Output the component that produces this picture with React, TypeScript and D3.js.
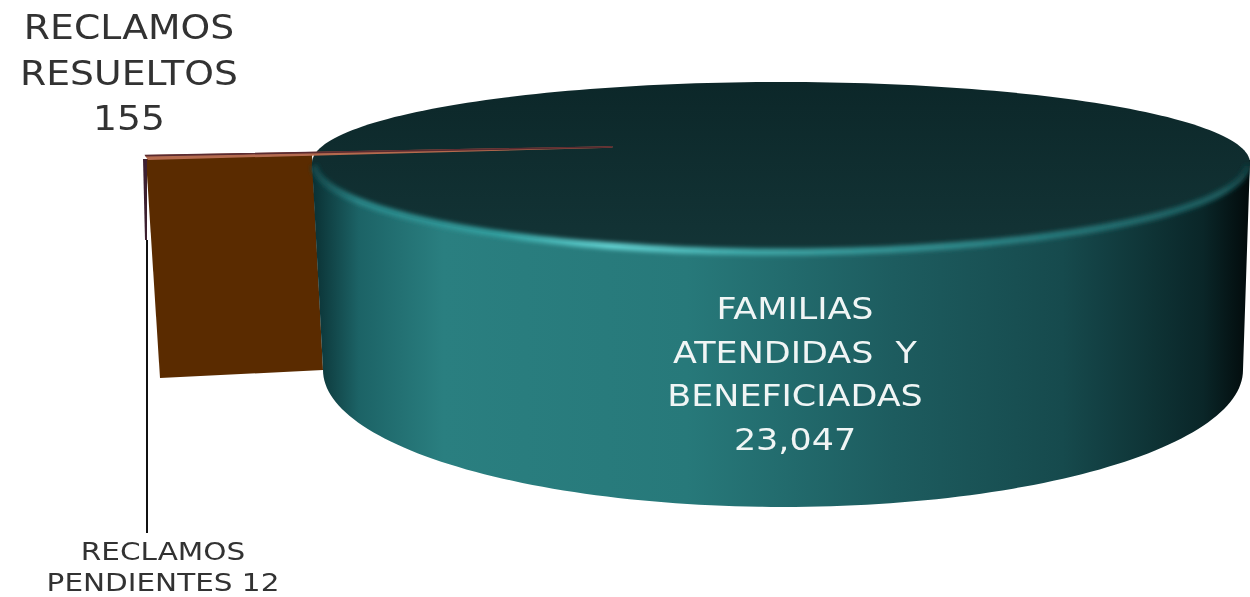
import React from "react";
import * as d3 from "d3";

const categories = ["FAMILIAS ATENDIDAS Y BENEFICIADAS", "RECLAMOS RESUELTOS", "RECLAMOS PENDIENTES"];
const values = [23047, 155, 12];
const topLabel = ["RECLAMOS", "RESUELTOS", "155"];
const mainLabel = ["FAMILIAS", "ATENDIDAS  Y", "BENEFICIADAS", "23,047"];
const bottomLabel = ["RECLAMOS", "PENDIENTES 12"];

const W = 1250, H = 597;
const cx = 781, cy = 163, rx = 469, ryTop = 81, ryFront = 89;
const bottomCx = 783, bottomCy = 370, bottomRx = 460, bottomRy = 137;
const explode = 170;
const apexY = 147;

const halfEllipse = (x0: number, y0: number, a: number, b: number, from: number, to: number) =>
  d3.line<number>()
    .x((t) => x0 + a * Math.cos(t))
    .y((t) => y0 + b * Math.sin(t))(d3.range(0, 121).map((i) => from + (i / 120) * (to - from))) as string;

export default function App() {
  const total = d3.sum(values);
  const smallSpan = ((values[1] + values[2]) / total) * 2 * Math.PI;
  const mid = (262.7 / 180) * Math.PI;
  const start = mid + smallSpan / 2;
  const pie = d3.pie<number>().sort(null).startAngle(start).endAngle(start + 2 * Math.PI);
  const arcs = pie(values);
  const arc = d3.arc<d3.PieArcDatum<number>>().innerRadius(0).outerRadius(rx);
  const small = arcs.slice(1);

  const wall = `M312,163 L${bottomCx - bottomRx},${bottomCy} ` +
    halfEllipse(bottomCx, bottomCy, bottomRx, bottomRy, Math.PI, 0).replace(/^M/, "L") + ` L1250,160 Z`;
  const top = halfEllipse(cx, cy, rx, ryTop, Math.PI, 2 * Math.PI) +
    halfEllipse(cx, cy, rx, ryFront, 0, Math.PI).replace(/^M/, "L") + "Z";
  const rim = halfEllipse(cx, cy, rx - 2, ryFront, 0.03, Math.PI - 0.03);

  const dx = explode * Math.sin(mid);

  const font = "'DejaVu Sans', Verdana, sans-serif";
  const txt = (t: string, x: number, y: number, sx: number) => (
    <text key={t} transform={`translate(${x},${y}) scale(${sx},1)`} style={{ whiteSpace: "pre" }}>{t}</text>
  );
  return (
    <svg width={W} height={H} style={{ position: "absolute", left: 0, top: 0, background: "#fff" }}>
      <defs>
        <linearGradient id="wallG" x1="312" x2="1250" y1="0" y2="0" gradientUnits="userSpaceOnUse">
          <stop offset="0" stopColor="#0a3033" />
          <stop offset="0.05" stopColor="#1c6366" />
          <stop offset="0.14" stopColor="#2a7f80" />
          <stop offset="0.4" stopColor="#27797a" />
          <stop offset="0.62" stopColor="#1d5c5f" />
          <stop offset="0.8" stopColor="#164a4d" />
          <stop offset="0.95" stopColor="#0a2628" />
          <stop offset="1" stopColor="#020a0b" />
        </linearGradient>
        <linearGradient id="topG" x1="0" x2="0" y1="82" y2="252" gradientUnits="userSpaceOnUse">
          <stop offset="0" stopColor="#0c2729" />
          <stop offset="1" stopColor="#133436" />
        </linearGradient>
        <linearGradient id="rimG" x1="312" x2="1250" y1="0" y2="0" gradientUnits="userSpaceOnUse">
          <stop offset="0" stopColor="#124447" />
          <stop offset="0.05" stopColor="#2a8688" />
          <stop offset="0.2" stopColor="#33a0a0" />
          <stop offset="0.32" stopColor="#62d0d0" />
          <stop offset="0.46" stopColor="#3fa8a8" />
          <stop offset="0.75" stopColor="#2a7e80" />
          <stop offset="0.97" stopColor="#1c5a5c" />
          <stop offset="1" stopColor="#0f3a3c" />
        </linearGradient>
        <linearGradient id="lineA" x1="143" x2="625" y1="0" y2="0" gradientUnits="userSpaceOnUse">
          <stop offset="0" stopColor="#b46a4e" />
          <stop offset="0.4" stopColor="#c0644e" />
          <stop offset="0.68" stopColor="#a8586a" />
          <stop offset="0.78" stopColor="#4e3f86" />
          <stop offset="1" stopColor="#2a3a52" />
        </linearGradient>
        <linearGradient id="lineB" x1="143" x2="625" y1="0" y2="0" gradientUnits="userSpaceOnUse">
          <stop offset="0" stopColor="#5a2b30" />
          <stop offset="0.4" stopColor="#3c3a78" />
          <stop offset="1" stopColor="#2a3a52" />
        </linearGradient>
        <filter id="soft" x="-5%" y="-20%" width="110%" height="140%"><feGaussianBlur stdDeviation="2.2" /></filter>
        <filter id="txt" x="-5%" y="-20%" width="110%" height="140%"><feGaussianBlur stdDeviation="0.4" /></filter>
      </defs>

      <path d="M146,159 L312,155 L323,370 L160,378 Z" fill="#5a2b00" />
      <path d="M143,159 L147,159 L147,240 L145,240 Z" fill="#3d2030" />
      <line x1="147" y1="240" x2="147" y2="533" stroke="#111" strokeWidth="2" />

      <path d={wall} fill="url(#wallG)" />
      <path d={top} fill="url(#topG)" />
      <path d={rim} fill="none" stroke="url(#rimG)" strokeWidth="7" filter="url(#soft)" />
      <g transform={`translate(${cx + dx},${apexY}) scale(1,${ryTop / rx})`}>
        {small.map((a, i) => (
          <path
            key={categories[i + 1]}
            d={arc(a) as string}
            fill={i === 0 ? "url(#lineA)" : "url(#lineB)"}
            stroke={i === 0 ? "url(#lineA)" : "url(#lineB)"}
            strokeWidth="1.6"
            vectorEffect="non-scaling-stroke"
          />
        ))}
      </g>

      <g fontFamily={font} textAnchor="middle" filter="url(#txt)">
        <g fill="#333" fontSize="34">
          {topLabel.map((t, i) => txt(t, 129, 39 + i * 45.5, 1.11))}
        </g>
        <g fill="#f0f5f5" fontSize="30">
          {mainLabel.map((t, i) => txt(t, 795, 319 + i * 43.5, 1.165))}
        </g>
        <g fill="#333" fontSize="25">
          {bottomLabel.map((t, i) => txt(t, 163, 560 + i * 31, 1.18))}
        </g>
      </g>
    </svg>
  );
}
